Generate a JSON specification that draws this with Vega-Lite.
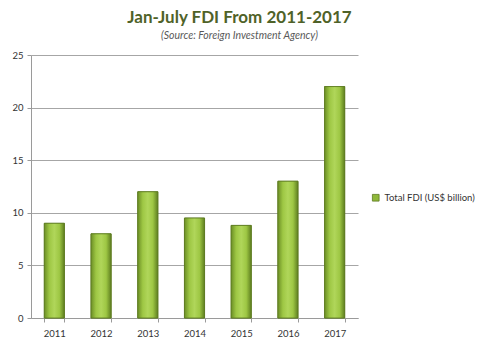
{
  "$schema": "https://vega.github.io/schema/vega-lite/v6.json",
  "autosize": "none",
  "width": 327,
  "height": 263,
  "padding": {"left": 31, "top": 55, "right": 122, "bottom": 33},
  "background": "white",
  "title": {
    "text": "Jan-July FDI From 2011-2017",
    "subtitle": "(Source: Foreign Investment Agency)",
    "anchor": "middle",
    "dx": 45,
    "font": "Lato",
    "fontSize": 17,
    "fontWeight": "bold",
    "color": "#4f6228",
    "subtitleFont": "Lato",
    "subtitleFontSize": 10.5,
    "subtitleFontStyle": "italic",
    "subtitleColor": "#595959",
    "subtitlePadding": 4,
    "offset": 8
  },
  "data": {
    "values": [
      {"year": "2011", "fdi": 9.0, "series": "Total FDI (US$ billion)"},
      {"year": "2012", "fdi": 8.0, "series": "Total FDI (US$ billion)"},
      {"year": "2013", "fdi": 12.0, "series": "Total FDI (US$ billion)"},
      {"year": "2014", "fdi": 9.5, "series": "Total FDI (US$ billion)"},
      {"year": "2015", "fdi": 8.8, "series": "Total FDI (US$ billion)"},
      {"year": "2016", "fdi": 13.0, "series": "Total FDI (US$ billion)"},
      {"year": "2017", "fdi": 22.0, "series": "Total FDI (US$ billion)"}
    ]
  },
  "encoding": {
    "x": {
      "field": "year",
      "type": "ordinal",
      "title": null,
      "scale": {"paddingInner": 0.57, "paddingOuter": 0.285},
      "axis": {
        "labelAngle": 0,
        "tickBand": "extent",
        "domainColor": "#9a9a9a",
        "tickColor": "#9a9a9a",
        "tickSize": 4,
        "labelFont": "Lato",
        "labelFontSize": 9.5,
        "labelColor": "#333333",
        "labelPadding": 6
      }
    },
    "y": {
      "field": "fdi",
      "type": "quantitative",
      "title": null,
      "scale": {"domain": [0, 25]},
      "axis": {
        "values": [0, 5, 10, 15, 20, 25],
        "gridColor": "#a6a6a6",
        "domainColor": "#9a9a9a",
        "tickColor": "#9a9a9a",
        "tickSize": 4,
        "labelFont": "Lato",
        "labelFontSize": 9.5,
        "labelColor": "#333333",
        "labelPadding": 4
      }
    }
  },
  "layer": [
    {
      "mark": {"type": "bar", "stroke": "#5d7a22", "strokeWidth": 0.8},
      "encoding": {
        "color": {
          "field": "series",
          "type": "nominal",
          "scale": {"range": ["#8fb83a"]},
          "legend": {
            "title": null,
            "orient": "none",
            "legendX": 340,
            "legendY": 138,
            "symbolType": "square",
            "symbolSize": 45,
            "symbolStrokeColor": "#5d7a22",
            "symbolStrokeWidth": 0.8,
            "labelFont": "Lato",
            "labelFontSize": 9.5,
            "labelColor": "#333333",
            "labelOffset": 4
          }
        }
      }
    },
    {
      "mark": {
        "type": "bar",
        "stroke": "#5d7a22",
        "strokeWidth": 0.8,
        "fill": {
          "gradient": "linear",
          "x1": 0, "y1": 0, "x2": 1, "y2": 0,
          "stops": [
            {"offset": 0, "color": "#6c8f26"},
            {"offset": 0.25, "color": "#9ec744"},
            {"offset": 0.5, "color": "#b0d65a"},
            {"offset": 0.75, "color": "#9ec744"},
            {"offset": 1, "color": "#5f7f20"}
          ]
        }
      }
    }
  ],
  "config": {
    "view": {"stroke": null}
  }
}
